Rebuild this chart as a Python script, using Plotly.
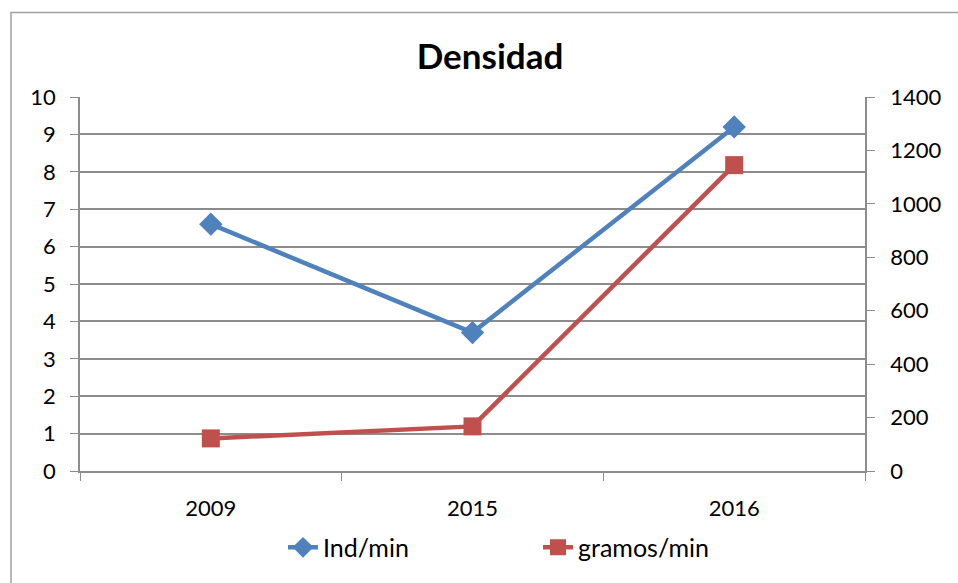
import plotly.graph_objects as go

years = ["2009", "2015", "2016"]
ind_min = [6.6, 3.7, 9.2]
gramos_min = [122, 167, 1145]

FONT = "Lato"
W, H = 958, 583
L, R, T, B = 80, 93, 97, 110
pw = W - L - R
ph = H - T - B

fig = go.Figure()
fig.add_trace(go.Scatter(
    x=years, y=ind_min, name="Ind/min", mode="lines+markers",
    line=dict(color="#4F81BD", width=4.5),
    marker=dict(symbol="diamond", size=18, color="#4F81BD"),
))
fig.add_trace(go.Scatter(
    x=years, y=gramos_min, name="gramos/min", mode="lines+markers", yaxis="y2",
    line=dict(color="#C0504D", width=4.5),
    marker=dict(symbol="square", size=18, color="#C0504D"),
))

axis_col = "#8c8c8c"
fig.update_layout(
    width=W, height=H,
    margin=dict(l=L, r=R, t=T, b=B, pad=0),
    paper_bgcolor="white", plot_bgcolor="white",
    font=dict(family=FONT, size=22, color="black"),
    title=dict(text="<b>Densidad</b>", x=(490 - L) / pw, xref="paper", xanchor="center",
               y=1 - 57 / H, yanchor="middle", font=dict(size=35, family=FONT)),
    xaxis=dict(type="category", range=[-0.5, 2.5], tickson="boundaries",
               ticks="outside", ticklen=8, tickcolor=axis_col, showline=True,
               linecolor=axis_col, linewidth=1.5, showgrid=False, ticklabelstandoff=17),
    yaxis=dict(range=[0, 10], dtick=1, ticks="outside", ticklen=8, tickcolor=axis_col,
               showline=True, linecolor=axis_col, linewidth=1.5,
               showgrid=True, gridcolor=axis_col, gridwidth=1.5, zeroline=False,
               ticklabelstandoff=10),
    yaxis2=dict(range=[0, 1400], dtick=200, overlaying="y", side="right",
                ticks="outside", ticklen=8, tickcolor=axis_col, showline=True,
                linecolor=axis_col, linewidth=1.5, showgrid=False, zeroline=False,
                ticklabelstandoff=11),
    legend=dict(orientation="h", x=(283 - L) / pw, xanchor="left",
                y=-(550 - (T + ph)) / ph, yanchor="middle",
                entrywidth=210, entrywidthmode="pixels",
                font=dict(size=25, family=FONT), bgcolor="rgba(0,0,0,0)"),
    showlegend=True,
)

fig.add_shape(type="rect", xref="paper", yref="paper",
              x0=(11 - L) / pw, x1=(1000 - L) / pw,
              y0=-(700 - (T + ph)) / ph, y1=(T + ph - 12) / ph,
              line=dict(color="#a0a0a0", width=1.5), layer="below")

fig.write_html("out.html", config={"displayModeBar": False},
               post_script="document.body.style.margin='0';document.body.style.overflow='hidden';")
